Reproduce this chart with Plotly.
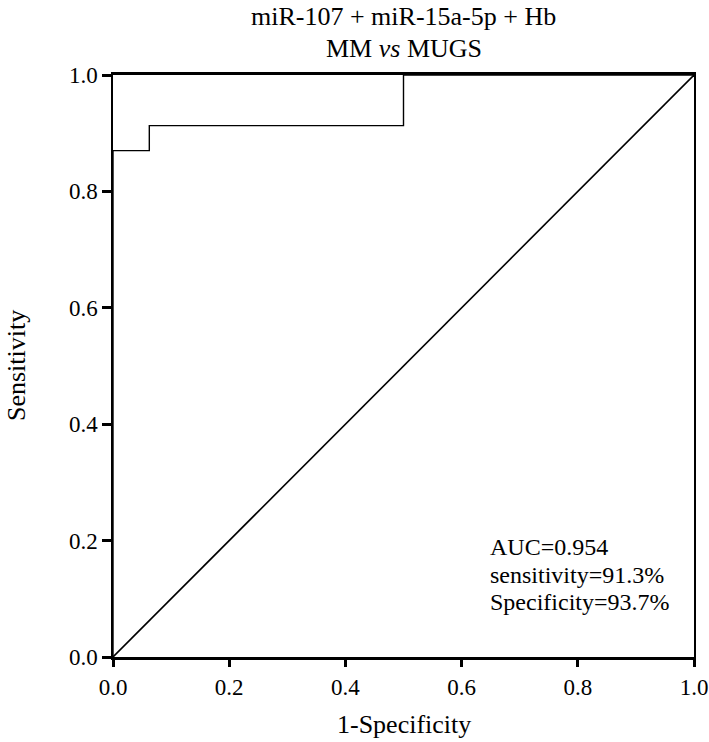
import plotly.graph_objects as go

# ROC step curve (1-Specificity, Sensitivity)
fpr = [0.0, 0.0, 0.0625, 0.0625, 0.5, 0.5, 1.0]
tpr = [0.0, 0.87, 0.87, 0.913, 0.913, 1.0, 1.0]
diag_x = [0.0, 1.0]
diag_y = [0.0, 1.0]
tick_vals = [0.0, 0.2, 0.4, 0.6, 0.8, 1.0]
tick_text = ["0.0", "0.2", "0.4", "0.6", "0.8", "1.0"]
stats_lines = ["AUC=0.954", "sensitivity=91.3%", "Specificity=93.7%"]
title_lines = ["miR-107 + miR-15a-5p + Hb", "MM <i>vs</i> MUGS"]
x_title = "1-Specificity"
y_title = "Sensitivity"

FONT = "Liberation Serif, Times New Roman, serif"

fig = go.Figure()
fig.add_trace(go.Scatter(x=diag_x, y=diag_y, mode="lines",
                         line=dict(color="black", width=1.6), showlegend=False,
                         hoverinfo="skip", cliponaxis=False))
fig.add_trace(go.Scatter(x=fpr, y=tpr, mode="lines",
                         line=dict(color="black", width=1.4), showlegend=False,
                         cliponaxis=False))

fig.update_layout(
    width=709, height=742,
    margin=dict(l=113, r=15, t=75, b=85),
    plot_bgcolor="white", paper_bgcolor="white",
    font=dict(family=FONT, size=23, color="black"),
    showlegend=False,
)
fig.update_xaxes(range=[0, 1], tickvals=tick_vals, ticktext=tick_text, automargin=False,
                 showgrid=False, zeroline=False, showline=True, linecolor="black",
                 linewidth=3, mirror=True, ticks="outside", ticklen=7, tickwidth=2.5,
                 tickcolor="black", tickfont=dict(size=23, family=FONT))
fig.update_yaxes(range=[0, 1], tickvals=tick_vals, ticktext=tick_text, automargin=False,
                 showgrid=False, zeroline=False, showline=True, linecolor="black",
                 linewidth=1.5, mirror=True, ticks="outside", ticklen=9, tickwidth=2.5,
                 tickcolor="black", tickfont=dict(size=23, family=FONT))

# title lines
for txt, yc in zip(title_lines, [16, 48]):
    fig.add_annotation(x=0.5, xref="paper", y=1.0, yref="paper", yshift=75 - yc,
                       text=txt, showarrow=False, font=dict(size=26, family=FONT),
                       xanchor="center", yanchor="middle")

# axis titles
fig.add_annotation(x=0.5, xref="paper", y=0, yref="paper", yshift=-(724 - 657),
                   text=x_title, showarrow=False, font=dict(size=26, family=FONT),
                   xanchor="center", yanchor="middle")
fig.add_annotation(x=0, xref="paper", y=0.5, yref="paper", xshift=-(113 - 16),
                   text=y_title, showarrow=False, font=dict(size=26, family=FONT),
                   textangle=-90, xanchor="center", yanchor="middle")

# stats text
for txt, yc in zip(stats_lines, [547, 575, 602]):
    fig.add_annotation(x=0.645, xref="x", y=(657 - yc) / 582, yref="y",
                       text=txt, showarrow=False, font=dict(size=24, family=FONT),
                       xanchor="left", yanchor="middle", align="left")

fig.write_html("out.html", config={"displayModeBar": False},
               post_script="document.body.style.margin='0';document.body.style.overflow='hidden';")
